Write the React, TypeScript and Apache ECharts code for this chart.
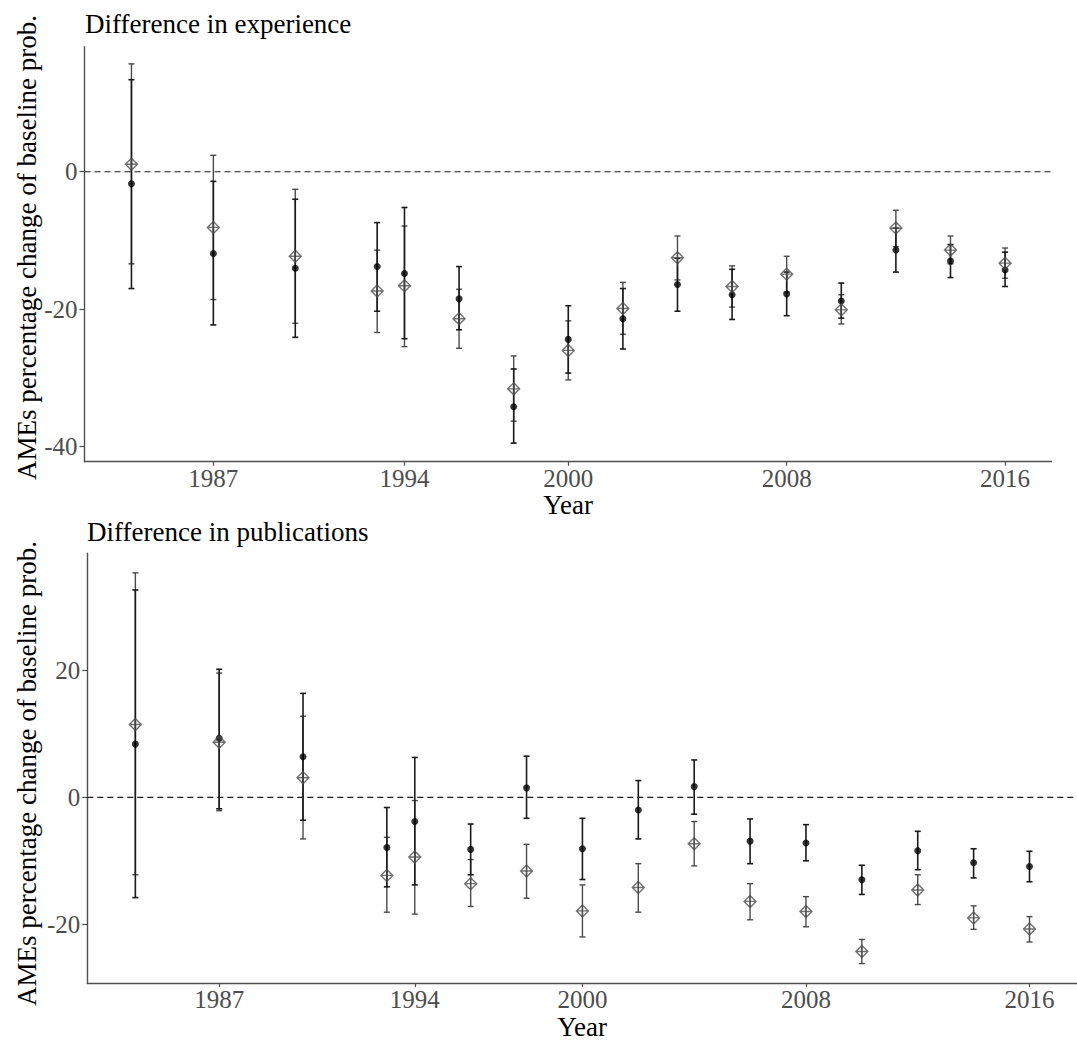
import React, { useEffect, useRef } from "react";
import * as echarts from "echarts";

// Survey years (x positions on a continuous year scale)
const years = [1984, 1987, 1990, 1993, 1994, 1996, 1998, 2000, 2002, 2004, 2006, 2008, 2010, 2012, 2014, 2016];
const yearTicks = [1987, 1994, 2000, 2008, 2016];
const xMin = 1982.28;
const xMax = 2017.7;

// Panel 1: difference in experience — filled-dot estimates with CI bounds
const expDot = [-1.75, -11.9, -14.05, -13.8, -14.8, -18.5, -34.2, -24.4, -21.4, -16.4, -17.9, -17.8, -18.8, -11.4, -13.0, -14.3];
const expDotLo = [-17.0, -22.3, -24.1, -20.3, -24.3, -23.0, -39.5, -29.3, -25.8, -20.3, -21.5, -20.95, -21.3, -14.6, -15.4, -16.7];
const expDotHi = [13.4, -1.4, -4.0, -7.4, -5.2, -13.8, -28.7, -19.5, -17.0, -12.6, -14.2, -14.6, -16.2, -8.2, -10.6, -11.7];
// Panel 1: open-diamond estimates with CI bounds
const expDia = [1.1, -8.1, -12.3, -17.35, -16.6, -21.4, -31.6, -26.0, -19.9, -12.5, -16.7, -14.9, -20.1, -8.2, -11.4, -13.3];
const expDiaLo = [-13.4, -18.6, -22.05, -23.4, -25.45, -25.7, -36.3, -30.3, -23.65, -15.75, -19.7, -17.5, -22.15, -10.9, -13.4, -15.5];
const expDiaHi = [15.7, 2.4, -2.55, -11.4, -7.9, -17.1, -26.8, -21.7, -16.1, -9.35, -13.7, -12.3, -17.9, -5.6, -9.35, -11.1];
const expYTicks = [-40, -20, 0];

// Panel 2: difference in publications
const pubDot = [8.4, 9.3, 6.4, -7.9, -3.8, -8.2, 1.5, -8.1, -2.0, 1.7, -6.9, -7.2, -13.0, -8.4, -10.3, -10.9];
const pubDotLo = [-15.8, -1.8, -3.6, -14.1, -13.8, -12.2, -3.3, -12.95, -6.55, -2.65, -10.45, -10.0, -15.3, -11.4, -12.7, -13.3];
const pubDotHi = [32.7, 20.2, 16.4, -1.6, 6.3, -4.2, 6.5, -3.3, 2.65, 5.9, -3.4, -4.3, -10.7, -5.35, -8.1, -8.5];
const pubDia = [11.5, 8.7, 3.1, -12.3, -9.4, -13.6, -11.6, -17.9, -14.2, -7.3, -16.4, -18.0, -24.3, -14.6, -19.0, -20.75];
const pubDiaLo = [-12.2, -2.1, -6.55, -18.1, -18.4, -17.2, -15.9, -22.0, -18.1, -10.8, -19.3, -20.4, -26.2, -16.9, -20.8, -22.8];
const pubDiaHi = [35.4, 19.6, 12.8, -6.3, -0.5, -9.8, -7.4, -13.8, -10.45, -3.8, -13.6, -15.65, -22.4, -12.2, -17.1, -18.8];
const pubYTicks = [-20, 0, 20];

const FONT = "Liberation Serif";
const AXIS_GREY = "#505050";
const LABEL_GREY = "#4d4d4d";

const bars = (lo: number[], hi: number[]) => years.map((y, i) => [y, lo[i], hi[i]]);
const pts = (v: number[]) => years.map((y, i) => [y, v[i]]);

const errorBarSeries = (data: number[][], idx: number, color: string, width: number) => ({
  type: "custom",
  xAxisIndex: idx,
  yAxisIndex: idx,
  data,
  encode: { x: 0, y: [1, 2] },
  silent: true,
  z: 2,
  renderItem: (params: any, api: any) => {
    const lo = api.coord([api.value(0), api.value(1)]);
    const hi = api.coord([api.value(0), api.value(2)]);
    const cap = 3;
    const style = { stroke: color, lineWidth: width };
    return {
      type: "group",
      children: [
        { type: "line", shape: { x1: lo[0], y1: lo[1], x2: hi[0], y2: hi[1] }, style },
        { type: "line", shape: { x1: lo[0] - cap, y1: lo[1], x2: lo[0] + cap, y2: lo[1] }, style },
        { type: "line", shape: { x1: hi[0] - cap, y1: hi[1], x2: hi[0] + cap, y2: hi[1] }, style },
      ],
    };
  },
});

// Dashed horizontal reference at zero, spanning the full x range
const zeroLineSeries = (idx: number) => ({
  type: "line",
  xAxisIndex: idx,
  yAxisIndex: idx,
  data: [
    [xMin, 0],
    [xMax, 0],
  ],
  symbol: "none",
  silent: true,
  z: 1,
  lineStyle: { type: [6, 4], color: "#1a1a1a", width: 1.1 },
});

const DIAMOND = "path://M0 -6 L6 0 L0 6 L-6 0 Z M0 -6 L0 6 M-6 0 L6 0";

const xAxisFor = (gridIndex: number, gap: number) => ({
  type: "value",
  gridIndex,
  min: xMin,
  max: xMax,
  name: "Year",
  nameLocation: "middle",
  nameGap: gap,
  nameTextStyle: { fontFamily: FONT, fontSize: 27, color: "#000" },
  axisLine: { show: true, onZero: false, lineStyle: { color: AXIS_GREY, width: 1.4 } },
  axisTick: { show: true, length: 4, customValues: yearTicks, lineStyle: { color: AXIS_GREY, width: 1.2 } },
  axisLabel: {
    customValues: yearTicks,
    margin: 4,
    fontFamily: FONT,
    fontSize: 25,
    color: LABEL_GREY,
    formatter: (v: number) => String(v),
  },
  splitLine: { show: false },
});

const yAxisFor = (gridIndex: number, min: number, max: number, ticks: number[]) => ({
  type: "value",
  gridIndex,
  min,
  max,
  axisLine: { show: true, onZero: false, lineStyle: { color: AXIS_GREY, width: 1.4 } },
  axisTick: { show: true, length: 5, customValues: ticks, lineStyle: { color: AXIS_GREY, width: 1.2 } },
  axisLabel: {
    customValues: ticks,
    margin: 7,
    fontFamily: FONT,
    fontSize: 25,
    color: LABEL_GREY,
  },
  splitLine: { show: false },
});

const yTitle = (y: number) => ({
  type: "text",
  x: 27,
  y,
  rotation: Math.PI / 2,
  style: {
    text: "AMEs percentage change of baseline prob.",
    fontFamily: FONT,
    fontSize: 27,
    fill: "#000",
    textAlign: "center",
    textVerticalAlign: "middle",
  },
});

export default function App() {
  const ref = useRef<HTMLDivElement>(null);

  useEffect(() => {
    if (!ref.current) return;
    const chart = echarts.init(ref.current, null, { renderer: "svg" });
    chart.setOption({
      animation: false,
      backgroundColor: "#fff",
      title: [
        {
          text: "Difference in experience",
          left: 85,
          top: 10,
          padding: 0,
          textStyle: { fontFamily: FONT, fontSize: 27, fontWeight: "normal", color: "#000" },
        },
        {
          text: "Difference in publications",
          left: 87,
          top: 518,
          padding: 0,
          textStyle: { fontFamily: FONT, fontSize: 27, fontWeight: "normal", color: "#000" },
        },
      ],
      graphic: [yTitle(247.5), yTitle(773.5)],
      grid: [
        { left: 84.5, top: 46.7, width: 967, height: 415 },
        { left: 87.3, top: 553.3, width: 1002, height: 434 },
      ],
      xAxis: [xAxisFor(0, 27), xAxisFor(1, 28)],
      yAxis: [yAxisFor(0, -42.2, 18.2, expYTicks), yAxisFor(1, -29.28, 38.48, pubYTicks)],
      series: [
        zeroLineSeries(0),
        errorBarSeries(bars(expDiaLo, expDiaHi), 0, "#4a4a4a", 1.4),
        errorBarSeries(bars(expDotLo, expDotHi), 0, "#1a1a1a", 1.6),
        {
          type: "scatter",
          xAxisIndex: 0,
          yAxisIndex: 0,
          data: pts(expDot),
          symbol: "circle",
          symbolSize: 7,
          z: 3,
          itemStyle: { color: "#000" },
        },
        {
          type: "scatter",
          xAxisIndex: 0,
          yAxisIndex: 0,
          data: pts(expDia),
          symbol: DIAMOND,
          symbolSize: 12,
          z: 3,
          itemStyle: { color: "none", borderColor: "#4d4d4d", borderWidth: 1.4 },
        },
        zeroLineSeries(1),
        errorBarSeries(bars(pubDiaLo, pubDiaHi), 1, "#4a4a4a", 1.4),
        errorBarSeries(bars(pubDotLo, pubDotHi), 1, "#1a1a1a", 1.6),
        {
          type: "scatter",
          xAxisIndex: 1,
          yAxisIndex: 1,
          data: pts(pubDot),
          symbol: "circle",
          symbolSize: 7,
          z: 3,
          itemStyle: { color: "#000" },
        },
        {
          type: "scatter",
          xAxisIndex: 1,
          yAxisIndex: 1,
          data: pts(pubDia),
          symbol: DIAMOND,
          symbolSize: 12,
          z: 3,
          itemStyle: { color: "none", borderColor: "#4d4d4d", borderWidth: 1.4 },
        },
      ],
    });
    return () => chart.dispose();
  }, []);

  return (
    <div
      ref={ref}
      style={{ position: "fixed", left: 0, top: 0, width: 1077, height: 1041, background: "#fff" }}
    />
  );
}
